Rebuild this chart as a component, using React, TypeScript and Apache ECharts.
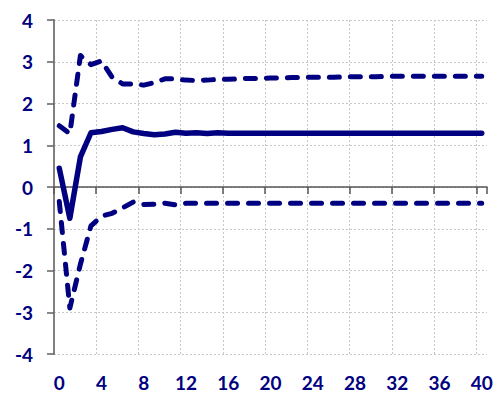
import React, { useEffect, useRef } from "react";
import * as echarts from "echarts";

const categories: string[] = Array.from({ length: 41 }, (_, i) => String(i));

const central: number[] = [
  0.45, -0.75, 0.72, 1.3, 1.33, 1.38, 1.42, 1.32, 1.28, 1.25, 1.27,
  1.31, 1.29, 1.3, 1.28, 1.3, 1.29, 1.29, 1.29, 1.29, 1.29,
  1.29, 1.29, 1.29, 1.29, 1.29, 1.29, 1.29, 1.29, 1.29, 1.29,
  1.29, 1.29, 1.29, 1.29, 1.29, 1.29, 1.29, 1.29, 1.29, 1.29,
];

const upper: number[] = [
  1.47, 1.28, 3.15, 2.93, 3.02, 2.63, 2.47, 2.47, 2.44, 2.5, 2.59,
  2.59, 2.56, 2.55, 2.56, 2.58, 2.58, 2.59, 2.6, 2.6, 2.61,
  2.61, 2.62, 2.62, 2.63, 2.63, 2.63, 2.64, 2.64, 2.64, 2.64,
  2.65, 2.65, 2.65, 2.65, 2.65, 2.65, 2.65, 2.65, 2.65, 2.65,
];

const lower: number[] = [
  -0.35, -2.9, -1.85, -0.93, -0.7, -0.63, -0.5, -0.36, -0.42, -0.41, -0.39,
  -0.43, -0.39, -0.39, -0.39, -0.39, -0.39, -0.39, -0.39, -0.39, -0.39,
  -0.39, -0.39, -0.39, -0.39, -0.39, -0.39, -0.39, -0.39, -0.39, -0.39,
  -0.39, -0.39, -0.39, -0.39, -0.39, -0.39, -0.39, -0.39, -0.39, -0.39,
];

const NAVY = "#000080";

export default function App() {
  const ref = useRef<HTMLDivElement>(null);
  useEffect(() => {
    if (!ref.current) return;
    const chart = echarts.init(ref.current, undefined, { renderer: "svg" });
    const labelStyle = {
      color: NAVY,
      fontFamily: "Lato",
      fontWeight: "bold" as const,
      fontSize: 19,
    };
    const lineBase = {
      type: "line" as const,
      symbol: "none",
      xAxisIndex: 0,
      yAxisIndex: 0,
    };
    chart.setOption({
      animation: false,
      grid: { left: 54, right: 13, top: 20, bottom: 40, containLabel: false },
      xAxis: [
        {
          type: "category",
          data: categories,
          position: "bottom",
          boundaryGap: true,
          axisLine: { show: false, onZero: false },
          axisTick: { show: false, interval: 3 },
          axisLabel: { ...labelStyle, interval: 3, margin: 19 },
          splitLine: {
            show: true,
            interval: 3,
            showMaxLine: false,
            lineStyle: { color: "#c8c8c8", type: [2, 2], width: 1 },
          },
        },
        {
          type: "category",
          data: categories,
          position: "top",
          boundaryGap: true,
          axisLine: { show: true, onZero: true, lineStyle: { color: "#555555", width: 1.5 } },
          axisTick: { show: true, inside: true, interval: 3, length: 7, lineStyle: { color: "#555555", width: 1.5 } },
          axisLabel: { show: false },
          splitLine: { show: false },
        },
      ],
      yAxis: {
        type: "value",
        min: -4,
        max: 4,
        interval: 1,
        axisLine: { show: true, lineStyle: { color: "#808080", width: 2 } },
        axisTick: { show: true, length: 7, lineStyle: { color: "#606060", width: 1.5 } },
        axisLabel: { ...labelStyle, margin: 21 },
        splitLine: {
          show: true,
          lineStyle: { color: "#c8c8c8", type: [2, 2], width: 1 },
        },
      },
      series: [
        {
          ...lineBase,
          name: "upper",
          data: upper,
          lineStyle: { color: NAVY, width: 5, type: [10, 11], cap: "round", join: "round" },
        },
        {
          ...lineBase,
          name: "central",
          data: central,
          lineStyle: { color: NAVY, width: 5.5, type: "solid", cap: "round", join: "round" },
        },
        {
          ...lineBase,
          name: "lower",
          data: lower,
          lineStyle: { color: NAVY, width: 5, type: [10, 11], cap: "round", join: "round" },
        },
      ],
    });
    return () => chart.dispose();
  }, []);
  return <div ref={ref} style={{ width: 500, height: 394, position: "absolute", left: 0, top: 0 }} />;
}
